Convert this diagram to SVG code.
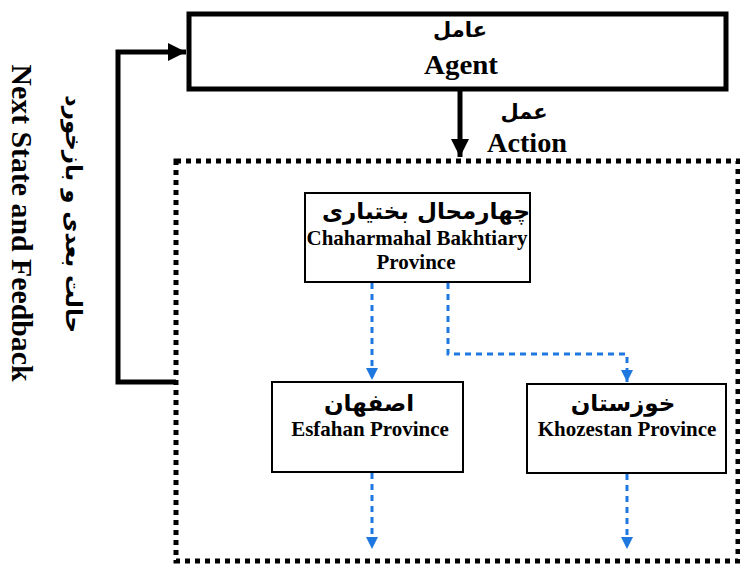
<svg xmlns="http://www.w3.org/2000/svg" width="740" height="567" viewBox="0 0 740 567">
<defs>
<style>
.en{font-family:"Liberation Serif","Times New Roman",serif;font-weight:bold;fill:#000;text-anchor:middle}
.fa{font-family:"DejaVu Sans",sans-serif;font-weight:bold;fill:#000;text-anchor:middle}
.box{fill:#fff;stroke:#000;stroke-width:2}
.blue{fill:none;stroke:#1f78e0;stroke-width:3;stroke-dasharray:6 5}
.thick{fill:none;stroke:#000;stroke-width:5}
</style>
<marker id="ab" viewBox="0 0 10 10" refX="10" refY="5" markerWidth="4" markerHeight="4" markerUnits="strokeWidth" orient="auto"><path d="M0,0 L10,5 L0,10 z" fill="#1f78e0"/></marker>
<marker id="ak" viewBox="0 0 10 10" refX="10" refY="5" markerWidth="3.6" markerHeight="3.6" markerUnits="strokeWidth" orient="auto"><path d="M0,0 L10,5 L0,10 z" fill="#000"/></marker>
</defs>
<rect width="740" height="567" fill="#fff"/>
<g id="environment">
<rect x="176" y="161" width="562" height="400" fill="none" stroke="#000" stroke-width="5" stroke-dasharray="5 5"/>
</g>
<g id="agent">
<rect x="189" y="14" width="537" height="75" fill="#fff" stroke="#000" stroke-width="5"/>
<text class="fa" x="460" y="37" font-size="21">عامل</text>
<text class="en" x="461" y="74" font-size="28" textLength="74" lengthAdjust="spacingAndGlyphs">Agent</text>
</g>
<g id="connectors">
<path class="thick" d="M460,90 V157" marker-end="url(#ak)" stroke-width="4"/>
<path class="thick" d="M176,382 H118 V52 H186" marker-end="url(#ak)"/>
<path class="blue" d="M372,283 V380" marker-end="url(#ab)"/>
<path class="blue" d="M448,283 V354 H627 V382" marker-end="url(#ab)"/>
<path class="blue" d="M372,473 V549" marker-end="url(#ab)"/>
<path class="blue" d="M627,474 V549" marker-end="url(#ab)"/>
</g>
<g id="action-label">
<text class="fa" x="524" y="119" font-size="21">عمل</text>
<text class="en" x="527" y="152" font-size="28" textLength="80" lengthAdjust="spacingAndGlyphs">Action</text>
</g>
<g id="feedback-label">
<text class="en" font-size="30" textLength="317" lengthAdjust="spacingAndGlyphs" transform="translate(12,223) rotate(90)">Next State and Feedback</text>
<text class="fa" font-size="22" textLength="238" lengthAdjust="spacingAndGlyphs" transform="translate(66,214) rotate(90)">حالت بعدی و بازخورد</text>
</g>
<g id="chaharmahal">
<rect class="box" x="305" y="193" width="225" height="89"/>
<text class="fa" x="426" y="219" font-size="23">چهارمحال بختیاری</text>
<text class="en" x="417" y="245" font-size="21" textLength="221" lengthAdjust="spacingAndGlyphs">Chaharmahal Bakhtiary</text>
<text class="en" x="416" y="269" font-size="21">Province</text>
</g>
<g id="esfahan">
<rect class="box" x="272" y="382" width="191" height="90"/>
<text class="fa" x="369" y="411" font-size="23">اصفهان</text>
<text class="en" x="370" y="436" font-size="21">Esfahan Province</text>
</g>
<g id="khozestan">
<rect class="box" x="527" y="384" width="199" height="89"/>
<text class="fa" x="623" y="411" font-size="23">خوزستان</text>
<text class="en" x="627" y="436" font-size="21">Khozestan Province</text>
</g>
</svg>
